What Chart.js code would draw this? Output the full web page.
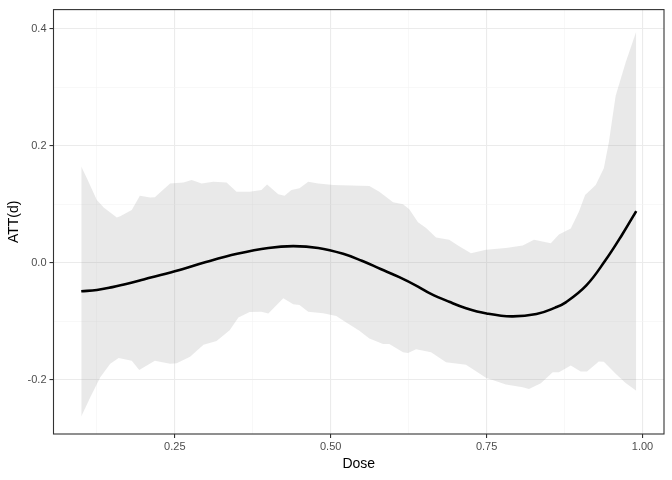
<!DOCTYPE html>
<html>
<head>
<meta charset="utf-8">
<script src="https://cdn.jsdelivr.net/npm/chart.js@4/dist/chart.umd.min.js"></script>
<style>
  html, body { margin: 0; padding: 0; background: #fff; }
  #wrap { width: 672px; height: 480px; }
</style>
</head>
<body>
<div id="wrap"><canvas id="c" width="672" height="480"></canvas></div>
<script>
// ---- data ----
const curveDose = [0.10, 0.125, 0.15, 0.1785, 0.20, 0.25, 0.30, 0.35, 0.40, 0.44, 0.48, 0.52, 0.55, 0.58, 0.61, 0.64, 0.66, 0.69, 0.717, 0.75, 0.79, 0.83, 0.86, 0.877, 0.91, 0.94, 0.9675, 0.99];
const curveATT  = [-0.049, -0.047, -0.042, -0.035, -0.029, -0.015, 0.001, 0.015, 0.025, 0.028, 0.025, 0.015, 0.003, -0.011, -0.025, -0.041, -0.053, -0.067, -0.078, -0.087, -0.092, -0.088, -0.077, -0.068, -0.039, 0.003, 0.048, 0.088];

const upperDose = [0.100, 0.109, 0.125, 0.136, 0.157, 0.1625, 0.181, 0.194, 0.2105, 0.218, 0.2425, 0.264, 0.277, 0.293, 0.312, 0.333, 0.349, 0.370, 0.389, 0.398, 0.416, 0.426, 0.437, 0.450, 0.464, 0.480, 0.504, 0.562, 0.578, 0.600, 0.616, 0.626, 0.640, 0.653, 0.669, 0.690, 0.706, 0.725, 0.749, 0.781, 0.808, 0.826, 0.853, 0.866, 0.885, 0.898, 0.908, 0.925, 0.938, 0.946, 0.957, 0.973, 0.990];
const upperVal  = [0.164, 0.144, 0.107, 0.094, 0.077, 0.079, 0.090, 0.114, 0.111, 0.1115, 0.135, 0.137, 0.141, 0.135, 0.138, 0.137, 0.121, 0.121, 0.124, 0.1336, 0.1166, 0.114, 0.124, 0.127, 0.138, 0.135, 0.1325, 0.131, 0.121, 0.103, 0.0996, 0.091, 0.069, 0.059, 0.043, 0.039, 0.028, 0.016, 0.022, 0.025, 0.029, 0.039, 0.033, 0.048, 0.058, 0.087, 0.1155, 0.1325, 0.161, 0.205, 0.285, 0.342, 0.395];

const lowerDose = [0.100, 0.1145, 0.1305, 0.1465, 0.160, 0.181, 0.193, 0.218, 0.2425, 0.253, 0.2745, 0.296, 0.317, 0.338, 0.352, 0.370, 0.389, 0.400, 0.424, 0.440, 0.450, 0.464, 0.488, 0.509, 0.525, 0.546, 0.562, 0.584, 0.594, 0.616, 0.624, 0.637, 0.661, 0.685, 0.717, 0.749, 0.781, 0.808, 0.818, 0.837, 0.856, 0.866, 0.885, 0.901, 0.911, 0.930, 0.938, 0.957, 0.973, 0.990];
const lowerVal  = [-0.263, -0.230, -0.196, -0.173, -0.163, -0.168, -0.1835, -0.168, -0.173, -0.172, -0.161, -0.1405, -0.134, -0.1156, -0.094, -0.0845, -0.084, -0.087, -0.061, -0.0714, -0.0726, -0.084, -0.0867, -0.0913, -0.1026, -0.1167, -0.130, -0.139, -0.139, -0.1535, -0.1547, -0.148, -0.1535, -0.1705, -0.1745, -0.197, -0.2085, -0.213, -0.216, -0.2063, -0.1876, -0.1876, -0.176, -0.1864, -0.1864, -0.169, -0.1694, -0.190, -0.206, -0.219];

const xTickValues = [0.25, 0.50, 0.75, 1.00];
const yTickValues = [-0.2, 0.0, 0.2, 0.4];
const xLabel = 'Dose';
const yLabel = 'ATT(d)';

// ---- build ----
const zip = (xs, ys) => xs.map((x, i) => ({ x: x, y: ys[i] }));
const isMajor = (v, list) => list.some(t => Math.abs(t - v) < 1e-6);

const FONT = "'Liberation Sans', Arial, Helvetica, sans-serif";
const GRID = '#EBEBEB';
const DARK = '#333333';

const panelBorder = {
  id: 'panelBorder',
  afterDraw(chart) {
    const a = chart.chartArea, ctx = chart.ctx;
    ctx.save();
    ctx.strokeStyle = DARK;
    ctx.lineWidth = 1.1;
    ctx.strokeRect(a.left, a.top, a.right - a.left, a.bottom - a.top);
    ctx.restore();
  }
};

new Chart(document.getElementById('c'), {
  type: 'line',
  data: {
    datasets: [
      {
        label: 'ATT',
        data: zip(curveDose, curveATT),
        borderColor: '#000000',
        borderWidth: 2.6,
        pointRadius: 0,
        fill: false,
        tension: 0.4
      },
      {
        label: 'upper',
        data: zip(upperDose, upperVal),
        borderWidth: 0,
        borderColor: 'rgba(0,0,0,0)',
        pointRadius: 0,
        backgroundColor: 'rgba(153,153,153,0.22)',
        fill: { target: 2 },
        tension: 0
      },
      {
        label: 'lower',
        data: zip(lowerDose, lowerVal),
        borderWidth: 0,
        borderColor: 'rgba(0,0,0,0)',
        pointRadius: 0,
        fill: false,
        tension: 0
      }
    ]
  },
  options: {
    responsive: false,
    animation: false,
    events: [],
    layout: { padding: { left: 0, top: 7, right: 8, bottom: 0 } },
    plugins: { legend: { display: false }, tooltip: { enabled: false } },
    scales: {
      x: {
        type: 'linear',
        min: 0.0555,
        max: 1.0345,
        afterFit: s => { s.height = 46; },
        border: { display: false },
        grid: {
          color: ctx => isMajor(ctx.tick.value, xTickValues) ? GRID : '#F4F4F4',
          lineWidth: ctx => isMajor(ctx.tick.value, xTickValues) ? 1.1 : 0.6,
          tickColor: ctx => isMajor(ctx.tick.value, xTickValues) ? DARK : 'rgba(0,0,0,0)',
          tickLength: 4,
          tickWidth: 1.1,
          drawTicks: true
        },
        ticks: {
          stepSize: 0.125,
          includeBounds: false,
          autoSkip: false,
          maxRotation: 0,
          padding: 2,
          color: '#4D4D4D',
          font: { family: FONT, size: 11 },
          callback: v => isMajor(v, xTickValues) ? v.toFixed(2) : ''
        },
        title: {
          display: true,
          text: xLabel,
          color: '#000000',
          font: { family: FONT, size: 14 },
          padding: { top: 0, bottom: 7 }
        }
      },
      y: {
        type: 'linear',
        min: -0.293,
        max: 0.4323,
        afterFit: s => { s.width = 53.5; },
        border: { display: false },
        grid: {
          color: ctx => isMajor(ctx.tick.value, yTickValues) ? GRID : '#F4F4F4',
          lineWidth: ctx => isMajor(ctx.tick.value, yTickValues) ? 1.1 : 0.6,
          tickColor: ctx => isMajor(ctx.tick.value, yTickValues) ? DARK : 'rgba(0,0,0,0)',
          tickLength: 4,
          tickWidth: 1.1,
          drawTicks: true
        },
        ticks: {
          stepSize: 0.1,
          includeBounds: false,
          autoSkip: false,
          padding: 3,
          color: '#4D4D4D',
          font: { family: FONT, size: 11 },
          callback: v => isMajor(v, yTickValues) ? (Math.abs(v) < 1e-9 ? '0.0' : v.toFixed(1)) : ''
        },
        title: {
          display: true,
          text: yLabel,
          color: '#000000',
          font: { family: FONT, size: 14 },
          padding: { top: 6, bottom: 0 }
        }
      }
    }
  },
  plugins: [panelBorder]
});
</script>
</body>
</html>
